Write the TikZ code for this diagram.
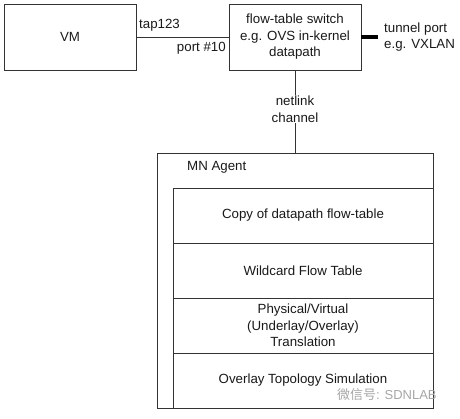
\documentclass[tikz,border=0pt]{standalone}
\usepackage{fontspec}
\setmainfont{Liberation Sans}
\newfontfamily\cjkfont{Noto Sans CJK SC}
\begin{document}
\begin{tikzpicture}[x=1pt,y=-1pt,
  every node/.style={font=\fontsize{13.3}{16.5}\selectfont, text=black!90},
  box/.style={draw=black!80, line width=0.9pt, rectangle, inner sep=0pt, align=center},
  lab/.style={inner sep=0pt, align=left},
  wire/.style={draw=black!80, line width=0.9pt}]
\useasboundingbox (0,0) rectangle (460,418);
% top boxes
\node[box, minimum width=132, minimum height=66] (vm) at (70,37) {VM};
\node[box, minimum width=132, minimum height=66] (sw) at (295,37) {flow-table switch\\e.g. OVS in-kernel\\datapath};
% agent
\node[box, minimum width=276, minimum height=255] (agent) at (295,280.5) {};
\node[lab, anchor=west] (mn) at (187,167) {MN Agent};
\node[box, minimum width=260, minimum height=55] (copy) at (303,215.5) {Copy of datapath flow-table};
\node[box, minimum width=260, minimum height=55] (wild) at (303,270.5) {Wildcard Flow Table};
\node[box, minimum width=260, minimum height=55] (phys) at (303,325.5) {Physical/Virtual\\(Underlay/Overlay)\\Translation};
\node[box, minimum width=260, minimum height=55] (ovl) at (303,380.5) {Overlay Topology Simulation};
% connectors
\draw[wire] (vm.east) -- (sw.west);
\node[lab, anchor=west] (tap) at (139,25) {tap123};
\node[lab, anchor=east] (port) at (226,48) {port \#10};
\coordinate (tend) at (378,37);
\draw[draw=black, line width=3.5pt] (sw.east) -- (tend);
\node[lab, anchor=west] (tun) at (384,37) {tunnel port\\e.g. VXLAN};
\draw[wire] (sw.south) -- (agent.north);
\node[fill=white, inner sep=1pt, align=center] (nl) at (295,109) {netlink\\channel};
% watermark
\node[anchor=west, inner sep=0pt, text=black!35, font=\fontsize{13}{15}\selectfont] (wm) at (337,395) {{\cjkfont 微信号}: SDNLAB};
\end{tikzpicture}
\end{document}
